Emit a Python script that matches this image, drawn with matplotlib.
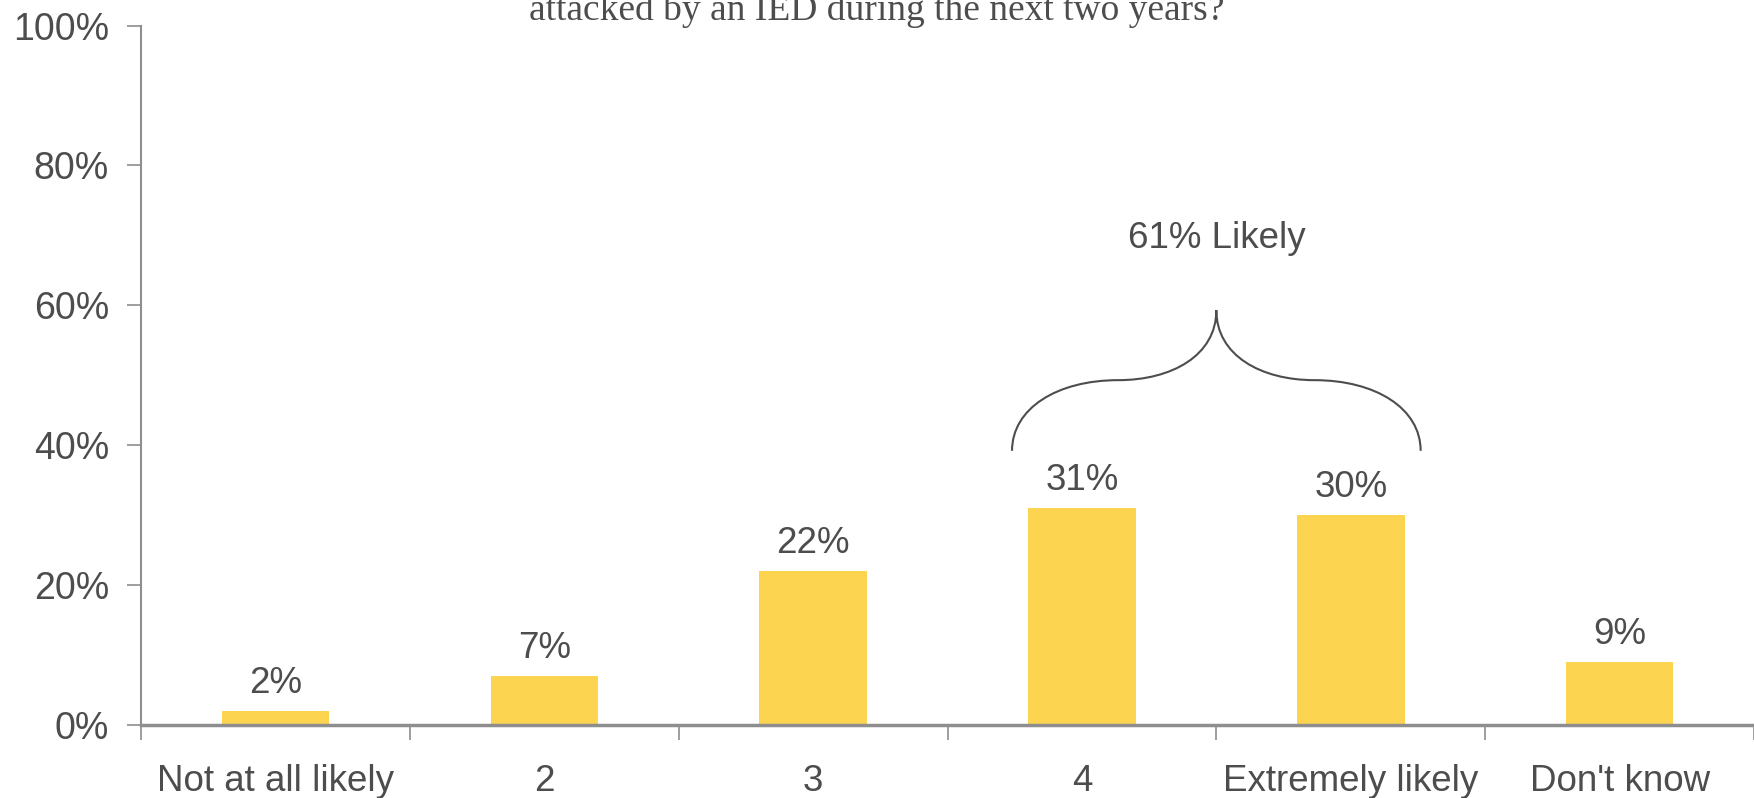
import matplotlib.pyplot as plt
from matplotlib.path import Path
from matplotlib.patches import PathPatch

categories = ["Not at all likely", "2", "3", "4", "Extremely likely", "Don't know"]
values = [2, 7, 22, 31, 30, 9]
yticks = [0, 20, 40, 60, 80, 100]
title_line = "attacked by an IED during the next two years?"
bracket_label = "61% Likely"

text_color = "#4D4D4F"
bar_color = "#FDD450"
axis_color = "#8E8E8E"

plt.rcParams['font.family'] = ['Liberation Sans', 'DejaVu Sans']

fig = plt.figure(figsize=(17.54, 7.98), dpi=100)
ax = fig.add_axes([0.0804, 0.0915, 0.9196, 0.8765])

x = list(range(len(categories)))
ax.bar(x, values, width=0.4, color=bar_color, zorder=2)

for xi, v in zip(x, values):
    ax.annotate(f"{v}%", (xi, v), xytext=(0, 13), textcoords='offset points',
                ha='center', va='baseline', fontsize=26.5, color=text_color)

ax.set_xlim(-0.5, len(categories) - 0.5)
ax.set_ylim(0, 100)
ax.set_yticks(yticks)
ax.set_yticklabels([f"{t}%" for t in yticks])
ax.set_xticks(x)
ax.set_xticklabels(categories)
ax.set_xticks([i - 0.5 for i in range(len(categories) + 1)], minor=True)

ax.tick_params(axis='x', which='major', length=0, pad=28, labelsize=26.5, labelcolor=text_color)
ax.tick_params(axis='x', which='minor', length=11, width=1.2, color=axis_color, direction='out')
ax.tick_params(axis='y', length=10, width=1.2, color=axis_color, pad=13, labelsize=27, labelcolor=text_color)

for s in ['top', 'right']:
    ax.spines[s].set_visible(False)
ax.spines['left'].set_color(axis_color)
ax.spines['left'].set_linewidth(1.5)
ax.spines['bottom'].set_color(axis_color)
ax.spines['bottom'].set_linewidth(2.5)
ax.spines['bottom'].set_zorder(3)

# curly brace over "4" and "Extremely likely"
xl, xr = 2.74, 4.26
xm = (xl + xr) / 2
yb, ym, yt = 39.2, 49.3, 59.3
h = xm - xl


def half(sign):
    return [
        (xm - sign * h, yb),
        (xm - sign * h, yb + 0.6 * (ym - yb)),
        (xm - sign * 0.78 * h, ym),
        (xm - sign * 0.48 * h, ym),
        (xm - sign * 0.22 * h, ym),
        (xm, ym + 0.35 * (yt - ym)),
        (xm, yt),
    ]


verts = half(1) + half(-1)[::-1][1:]
codes = [Path.MOVETO] + [Path.CURVE4] * 12
brace = PathPatch(Path(verts, codes), fill=False, edgecolor=text_color, lw=1.5)
ax.add_patch(brace)
ax.text(xm, 69.6, bracket_label, ha='center', va='center', fontsize=26.5, color=text_color)

fig.text(0.5, 0.975, title_line, ha='center', va='baseline', fontsize=27,
         family=['Liberation Serif', 'DejaVu Serif'], color=text_color)

fig.savefig("out.png", dpi=100)
